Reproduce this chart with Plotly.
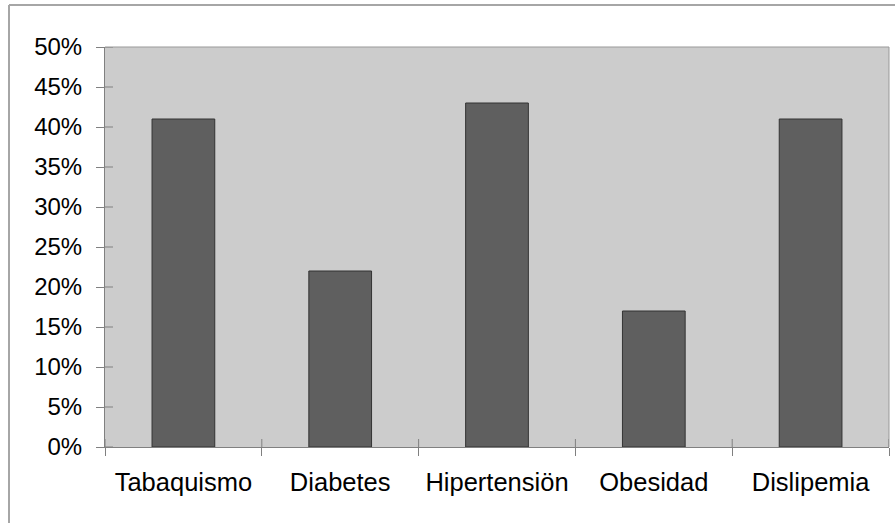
import plotly.graph_objects as go

categories = ["Tabaquismo", "Diabetes", "Hipertensiön", "Obesidad", "Dislipemia"]
values = [0.41, 0.22, 0.43, 0.17, 0.41]
y_tick_vals = [0, 0.05, 0.10, 0.15, 0.20, 0.25, 0.30, 0.35, 0.40, 0.45, 0.50]
y_tick_text = ["0%", "5%", "10%", "15%", "20%", "25%", "30%", "35%", "40%", "45%", "50%"]

W, H = 895, 523
L, R, T, B = 105, 6, 47, 76
PW, PH = W - L - R, H - T - B
yfont = dict(family="Liberation Sans, Arial, sans-serif", size=24, color="#000000")
xfont = dict(family="Liberation Sans, Arial, sans-serif", size=25.5, color="#000000")
tick_col = "#808080"
TL = 8  # tick length in px

fig = go.Figure()
fig.add_trace(go.Bar(
    x=categories, y=values,
    marker=dict(color="#5f5f5f", line=dict(color="#333333", width=1)),
    hoverinfo="skip", showlegend=False,
))

shapes = [
    # plot area border (top and right)
    dict(type="line", xref="paper", yref="paper", x0=0, x1=1, y0=1, y1=1,
         line=dict(color="#999999", width=1), layer="above"),
    dict(type="line", xref="paper", yref="paper", x0=1, x1=1, y0=0, y1=1,
         line=dict(color="#999999", width=1), layer="above"),
    # outer chart border (top and left)
    dict(type="line", xref="paper", yref="paper",
         x0=(9 - L) / PW, x1=1.2, y0=(PH + T - 5) / PH, y1=(PH + T - 5) / PH,
         line=dict(color="#a6a6a6", width=2)),
    dict(type="line", xref="paper", yref="paper",
         x0=(9 - L) / PW, x1=(9 - L) / PW, y0=-0.5, y1=(PH + T - 5) / PH,
         line=dict(color="#a6a6a6", width=2)),
]
# inner halves of the crossing tick marks
for v in y_tick_vals:
    shapes.append(dict(type="line", xref="paper", yref="y", x0=0, x1=TL / PW, y0=v, y1=v,
                       line=dict(color=tick_col, width=1), layer="above"))
for i in range(len(categories) + 1):
    shapes.append(dict(type="line", xref="x", yref="paper", x0=i - 0.5, x1=i - 0.5,
                       y0=0, y1=TL / PH, line=dict(color=tick_col, width=1), layer="above"))

fig.update_layout(
    width=W, height=H,
    margin=dict(l=L, r=R, t=T, b=B),
    paper_bgcolor="white", plot_bgcolor="#cccccc",
    bargap=0.6,
    font=yfont,
    xaxis=dict(
        type="category", categoryorder="array", categoryarray=categories,
        range=[-0.5, 4.5], tickson="boundaries",
        ticks="outside", ticklen=TL, tickcolor=tick_col, tickwidth=1,
        showline=True, linecolor=tick_col, linewidth=1,
        showgrid=False, zeroline=False, tickfont=xfont,
        ticklabelstandoff=12,
        fixedrange=True,
    ),
    yaxis=dict(
        range=[0, 0.5], tickvals=y_tick_vals, ticktext=y_tick_text,
        ticks="outside", ticklen=TL, tickcolor=tick_col, tickwidth=1,
        showline=True, linecolor=tick_col, linewidth=1,
        showgrid=False, zeroline=False, tickfont=yfont,
        ticklabelstandoff=9,
        fixedrange=True,
    ),
    shapes=shapes,
)

fig.write_html(
    "out.html",
    config={"displayModeBar": False},
    post_script="document.body.style.margin='0px';document.body.style.overflow='hidden';",
)
